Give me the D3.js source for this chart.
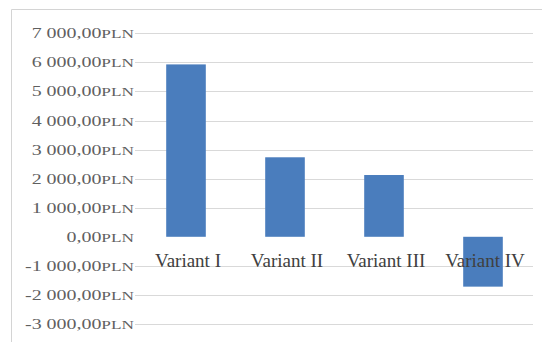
<html>
<head>
  <style>
    body { margin: 0; background: #fff; }
    svg { display: block; }
  </style>
</head>
<body>
  <script src="https://d3js.org/d3.v7.min.js"></script>
  <script>
    var width = 542;
    var height = 342;

    // data
    var categories = ["Variant I", "Variant II", "Variant III", "Variant IV"];
    var values = [5930, 2735, 2125, -1715];
    var yTicks = [7000, 6000, 5000, 4000, 3000, 2000, 1000, 0, -1000, -2000, -3000];

    var plotLeft = 136.5, plotRight = 532.5;
    var yTop = 33.3, yBottom = 324;

    var svg = d3.select("body").append("svg")
      .attr("width", width)
      .attr("height", height);

    // chart frame (only top and left visible)
    svg.append("path")
      .attr("d", "M11.5,342 V9.5 H542")
      .attr("fill", "none")
      .attr("stroke", "#d4d4d4")
      .attr("stroke-width", 1);

    var y = d3.scaleLinear().domain([7000, -3000]).range([yTop, yBottom]);
    var x = d3.scaleBand().domain(categories)
      .range([plotLeft, plotRight])
      .paddingInner(0.6)
      .paddingOuter(0.3);

    // gridlines
    svg.append("g").selectAll("line")
      .data(yTicks.filter(d => d != 0))
      .join("line")
      .attr("x1", 135)
      .attr("x2", 533)
      .attr("y1", d => Math.round(y(d)) + 0.5)
      .attr("y2", d => Math.round(y(d)) + 0.5)
      .attr("stroke", "#d9d9d9")
      .attr("stroke-width", 1);

    // y tick labels, e.g. "7 000,00PLN"
    var fmt = d => {
      var s = d3.format(",.2f")(Math.abs(d));
      s = s.replace(/,/g, " ").replace(".", ",");
      return (d < 0 ? "-" : "") + s;
    };
    var tickText = svg.append("g").selectAll("text")
      .data(yTicks)
      .join("text")
      .attr("transform", d => "translate(134," + (y(d) + 5) + ") scale(1.33,1)")
      .attr("text-anchor", "end")
      .attr("font-family", "'Liberation Serif', 'DejaVu Serif', serif")
      .attr("fill", "#5f5f5f");
    tickText.append("tspan").attr("font-size", 15).text(fmt);
    tickText.append("tspan").attr("font-size", 13).text("PLN");

    // bars
    svg.append("g").selectAll("rect")
      .data(values)
      .join("rect")
      .attr("x", (d, i) => x(categories[i]))
      .attr("width", x.bandwidth())
      .attr("y", d => y(Math.max(0, d)))
      .attr("height", d => Math.abs(y(d) - y(0)))
      .attr("fill", "#4a7dbd");

    // category labels
    svg.append("g").selectAll("text")
      .data(categories)
      .join("text")
      .attr("x", d => x(d) + x.bandwidth() / 2 + 2)
      .attr("y", 267)
      .attr("text-anchor", "middle")
      .attr("font-family", "'Liberation Serif', 'DejaVu Serif', serif")
      .attr("font-size", 19)
      .attr("fill", "#404040")
      .text(d => d);
  </script>
</body>
</html>
